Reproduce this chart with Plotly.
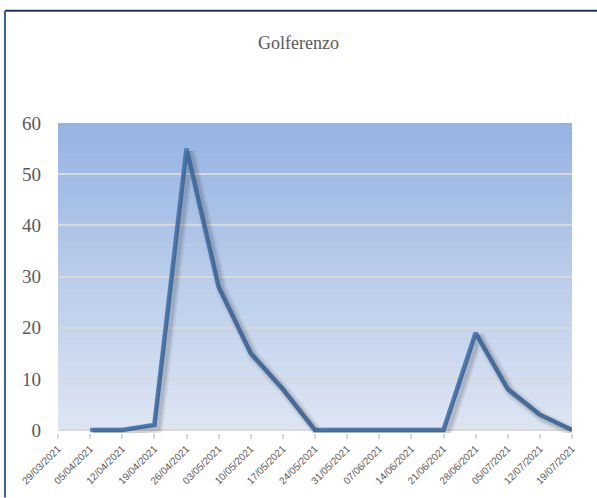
import plotly.graph_objects as go

# ---- data ----
dates = ["29/03/2021", "05/04/2021", "12/04/2021", "19/04/2021", "26/04/2021",
         "03/05/2021", "10/05/2021", "17/05/2021", "24/05/2021", "31/05/2021",
         "07/06/2021", "14/06/2021", "21/06/2021", "28/06/2021", "05/07/2021",
         "12/07/2021", "19/07/2021"]
values = [None, 0, 0, 1, 55, 28, 15, 8, 0, 0, 0, 0, 0, 19, 8, 3, 0]
title = "Golferenzo"
y_ticks = [0, 10, 20, 30, 40, 50, 60]

W, H = 597, 498
L, R, T, B = 58, 572, 123, 432  # plot area in pixels (y=0 at B)

fig = go.Figure()

n = len(dates) - 1
xpx = (R - L) / n
ypx = (B - T) / 60
ext = 3  # extra px below zero so the line at 0 is not clipped
ymin = -ext / ypx
sx, sy = 3, 3

# soft shadow (several translucent layers on offset axes)
for w, a in [(12, 0.05), (9, 0.07), (6, 0.10)]:
    fig.add_trace(go.Scatter(x=dates, y=values, mode="lines",
                             line=dict(color="rgba(30,30,30,%.2f)" % a, width=w),
                             xaxis="x2", yaxis="y2", hoverinfo="skip",
                             showlegend=False))
fig.add_trace(go.Scatter(x=dates, y=values, mode="lines",
                         line=dict(color="#4f81bd", width=4.5),
                         showlegend=False))

# gradient background as strips (data y from 0 to 60)
shapes = []
top = (149, 179, 226)
bot = (221, 229, 242)
N = 80
for i in range(N):
    f = i / (N - 1)
    c = tuple(round(bot[k] + (top[k] - bot[k]) * f) for k in range(3))
    shapes.append(dict(type="rect", xref="paper", yref="y",
                       x0=0, x1=1, y0=60 * i / N, y1=60 * (i + 1) / N + 0.1,
                       fillcolor="rgb(%d,%d,%d)" % c, line=dict(width=0),
                       layer="below"))

def px_x(p):
    return (p - L) / (R - L)

def px_y(p):
    return (B + ext - p) / (B + ext - T)

# outer frame
shapes.append(dict(type="line", xref="paper", yref="paper",
                   x0=px_x(5), x1=px_x(600), y0=px_y(10), y1=px_y(10),
                   line=dict(color="#1f3468", width=2)))
shapes.append(dict(type="line", xref="paper", yref="paper",
                   x0=px_x(5), x1=px_x(5), y0=px_y(10), y1=px_y(500),
                   line=dict(color="#3a62a8", width=2)))

fig.update_layout(
    width=W, height=H,
    margin=dict(l=L, r=W - R, t=T, b=H - B - ext, pad=0),
    paper_bgcolor="white",
    plot_bgcolor="rgba(0,0,0,0)",
    title=dict(text=title, x=0.5, xanchor="center", y=1 - 43 / H, yanchor="middle",
               font=dict(family="Liberation Serif", size=18, color="#595959")),
    shapes=shapes,
    xaxis=dict(type="category", categoryorder="array", categoryarray=dates,
               range=[0, n], tickangle=-45, showgrid=False,
               showline=False,
               ticks="outside", ticklen=5, tickcolor="#d9d9d9", tickwidth=1.5,
               tickfont=dict(family="Liberation Sans", size=10, color="#595959"),
               layer="below traces", fixedrange=True),
    yaxis=dict(range=[ymin, 60], tickvals=y_ticks, showgrid=True,
               gridcolor="#d9d9d9", gridwidth=1.5,
               zeroline=True, zerolinecolor="#d9d9d9", zerolinewidth=1.5,
               showline=False, ticks="", ticklabelstandoff=16,
               tickfont=dict(family="Liberation Serif", size=19, color="#595959"),
               layer="below traces", fixedrange=True),
    xaxis2=dict(type="category", categoryorder="array", categoryarray=dates,
                overlaying="x", range=[-sx / xpx, n - sx / xpx], visible=False),
    yaxis2=dict(overlaying="y", range=[ymin + sy / ypx, 60 + sy / ypx], visible=False),
)

fig.write_html("out.html")
